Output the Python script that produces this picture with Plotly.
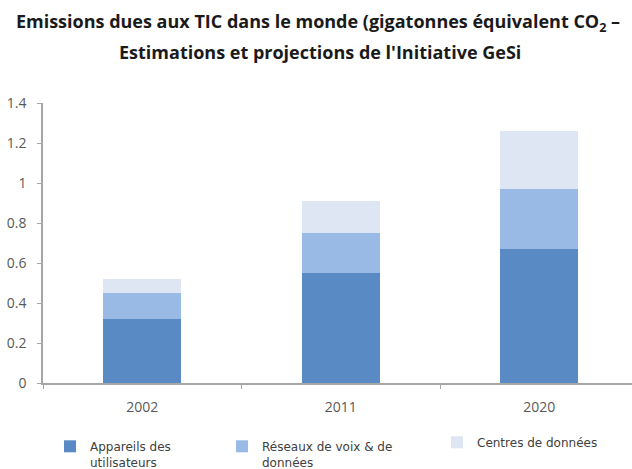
import plotly.graph_objects as go

years = ["2002", "2011", "2020"]
appareils = [0.32, 0.55, 0.67]
reseaux = [0.13, 0.20, 0.30]
centres = [0.07, 0.16, 0.29]

series_names = ["Appareils des<br>utilisateurs", "Réseaux de voix & de<br>données", "Centres de données"]
colors = ["#5A8AC4", "#98BAE4", "#DDE6F2"]

W, H = 632, 469
L, R, T, B = 43, 0, 103, 86
PW, PH = W - L - R, H - T - B

fig = go.Figure()
legend_x = [50, 222, 437]
for i, (name, vals, col) in enumerate(zip(series_names, [appareils, reseaux, centres], colors)):
    lg = "legend" if i == 0 else f"legend{i+1}"
    fig.add_trace(go.Bar(x=years, y=vals, name=name, marker=dict(color=col, line=dict(width=0)),
                         width=0.395, legend=lg))

font_lbl = dict(family="Open Sans", size=14, color="#595959")
legend_common = dict(orientation="v", xref="container", yref="container", xanchor="left", yanchor="top",
                     valign="top", bgcolor="rgba(0,0,0,0)",
                     font=dict(family="DejaVu Sans", size=12, color="#404040"))
title_font = dict(family="Open Sans", size=18, color="#1a1a1a", weight="bold")
fig.update_layout(
    width=W, height=H,
    margin=dict(l=L, r=R, t=T, b=B, autoexpand=False),
    paper_bgcolor="white", plot_bgcolor="white",
    barmode="stack",
    showlegend=True,
    legend=dict(x=legend_x[0] / W, y=1 - 432 / H, **legend_common),
    legend2=dict(x=legend_x[1] / W, y=1 - 432 / H, **legend_common),
    legend3=dict(x=legend_x[2] / W, y=1 - 428 / H, **legend_common),
    title=dict(text="Emissions dues aux TIC dans le monde (gigatonnes équivalent CO<sub>2</sub> –",
               x=318 / W, xanchor="center", xref="container",
               y=1 - 22 / H, yanchor="middle", yref="container", font=title_font),
    annotations=[dict(text="Estimations et projections de l'Initiative GeSi",
                      x=(320 - L) / PW, xref="paper", xanchor="center",
                      y=(H - B - 52) / PH, yref="paper",
                      yanchor="middle", showarrow=False, font=title_font)],
    xaxis=dict(type="category", range=[-0.5, -0.5 + PW / 198.5], showline=True, linecolor="#A6A6A6",
               linewidth=1.5, ticks="outside", tickson="boundaries", ticklen=4, tickcolor="#A6A6A6",
               showgrid=False, zeroline=False, tickfont=font_lbl, ticklabelstandoff=10, tickangle=0),
    yaxis=dict(range=[0, 1.4], dtick=0.2, showline=True, linecolor="#A6A6A6", linewidth=1.5,
               ticks="outside", ticklen=4, tickcolor="#A6A6A6", showgrid=False, zeroline=False,
               tickfont=font_lbl, ticklabelstandoff=8),
)
fig.write_html("out.html", config={"displayModeBar": False},
               post_script="document.body.style.margin='0';document.body.style.padding='0';")
